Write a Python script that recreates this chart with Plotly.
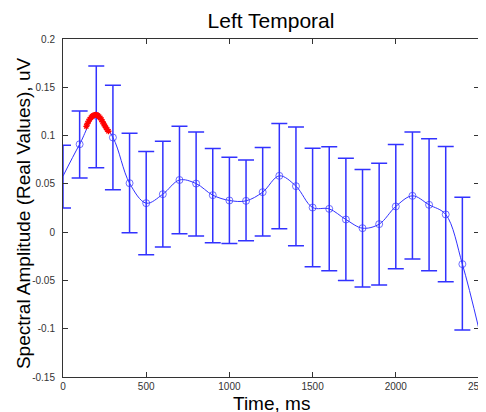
import plotly.graph_objects as go

# ---- data ----
time_ms = [0, 100, 200, 300, 400, 500, 600, 700, 800, 900, 1000, 1100, 1200,
           1300, 1400, 1500, 1600, 1700, 1800, 1900, 2000, 2100, 2200, 2300, 2400]
mean_vals = [0.058, 0.091, 0.1205, 0.098, 0.0507, 0.030, 0.0393, 0.054, 0.0503,
             0.0383, 0.0328, 0.0324, 0.0414, 0.0583, 0.0476, 0.0255, 0.0241,
             0.0131, 0.0041, 0.0083, 0.0266, 0.0376, 0.0283, 0.0183, -0.0331]
upper_vals = [0.090, 0.1255, 0.172, 0.152, 0.1024, 0.0834, 0.094, 0.1097, 0.1038,
              0.0866, 0.0776, 0.0748, 0.0876, 0.1124, 0.109, 0.0869, 0.0883,
              0.0766, 0.0648, 0.0714, 0.0907, 0.1038, 0.0966, 0.0886, 0.0362]
lower_vals = [0.025, 0.056, 0.0666, 0.044, -0.0007, -0.0234, -0.0155, -0.0017,
              -0.004, -0.011, -0.0117, -0.009, -0.004, 0.0034, -0.0141, -0.0359,
              -0.040, -0.050, -0.0569, -0.0548, -0.038, -0.0279, -0.040, -0.0514,
              -0.1014]
end_time = [2500]
end_val = [-0.1007]

peak_t = [140, 147, 154, 161, 168, 175, 182, 189, 196, 203, 210, 217, 224, 231,
          238, 245, 252, 259, 266, 273]
peak_v = [0.1095, 0.1125, 0.1150, 0.1170, 0.1186, 0.1199, 0.1208, 0.1213, 0.1215,
          0.1213, 0.1207, 0.1197, 0.1183, 0.1165, 0.1143, 0.1118, 0.1100, 0.1080,
          0.1062, 0.1045]

x_ticks = [0, 500, 1000, 1500, 2000, 2500]
y_ticks = [-0.15, -0.1, -0.05, 0, 0.05, 0.1, 0.15, 0.2]
y_tick_text = ["-0.15", "-0.1", "-0.05", "0", "0.05", "0.1", "0.15", "0.2"]

# ---- styling ----
BLUE = "rgb(50,50,255)"
FONT = "Liberation Sans, Arial, sans-serif"
# the page body adds an 8px offset, so the figure is 8px smaller than the window
W, H = 478, 404

err_plus = [u - m for u, m in zip(upper_vals, mean_vals)]
err_minus = [m - l for m, l in zip(mean_vals, lower_vals)]
marker_sizes = [0] + [7] * (len(time_ms) - 1)

fig = go.Figure()

# smooth curve through the means
fig.add_trace(go.Scatter(
    x=time_ms + end_time, y=mean_vals + end_val,
    mode="lines", line=dict(color=BLUE, width=1, shape="spline", smoothing=1),
    hoverinfo="skip", showlegend=False))

# error bars with open circles
fig.add_trace(go.Scatter(
    x=time_ms, y=mean_vals, mode="markers",
    marker=dict(symbol="circle-open", size=marker_sizes, color=BLUE,
                line=dict(color=BLUE, width=1)),
    error_y=dict(type="data", symmetric=False, array=err_plus,
                 arrayminus=err_minus, color=BLUE, thickness=1.5, width=8),
    showlegend=False))

# red significance markers
fig.add_trace(go.Scatter(
    x=peak_t, y=peak_v, mode="markers",
    marker=dict(symbol="asterisk-open", size=5, color="red",
                line=dict(color="red", width=1.3)),
    showlegend=False))

fig.update_layout(
    width=W, height=H,
    margin=dict(l=55, r=7, t=31, b=35, autoexpand=False),
    paper_bgcolor="white", plot_bgcolor="white",
    font=dict(family=FONT, color="black"),
    title=dict(text="Left Temporal", x=263 / W, xanchor="center",
               y=1 - 13 / H, yanchor="middle", automargin=False,
               font=dict(size=21, color="black", family=FONT)),
    annotations=[
        dict(text="Time, ms", xref="paper", yref="paper", x=0.5, y=0,
             xanchor="center", yanchor="middle", yshift=-26, showarrow=False,
             font=dict(size=19, color="black", family=FONT)),
        dict(text="Spectral Amplitude (Real Values), uV", xref="paper",
             yref="paper", x=0, y=0.485, xanchor="center", yanchor="middle",
             xshift=-40, textangle=-90, showarrow=False,
             font=dict(size=19, color="black", family=FONT)),
    ],
)

fig.update_xaxes(
    range=[0, 2500], tickvals=x_ticks, ticktext=[str(t) for t in x_ticks],
    ticks="inside", ticklen=5, tickcolor="#333", mirror="ticks",
    showline=True, linecolor="#333", linewidth=1, showgrid=False, zeroline=False,
    tickfont=dict(size=10, color="#333", family=FONT), ticklabeloverflow="allow",
    automargin=False)

fig.update_yaxes(
    range=[-0.15, 0.2], tickvals=y_ticks, ticktext=y_tick_text,
    ticks="inside", ticklen=5, tickcolor="#333", mirror="ticks",
    showline=True, linecolor="#333", linewidth=1, showgrid=False, zeroline=False,
    tickfont=dict(size=10, color="#333", family=FONT), ticklabelstandoff=5,
    automargin=False)

fig.write_html("out.html")
